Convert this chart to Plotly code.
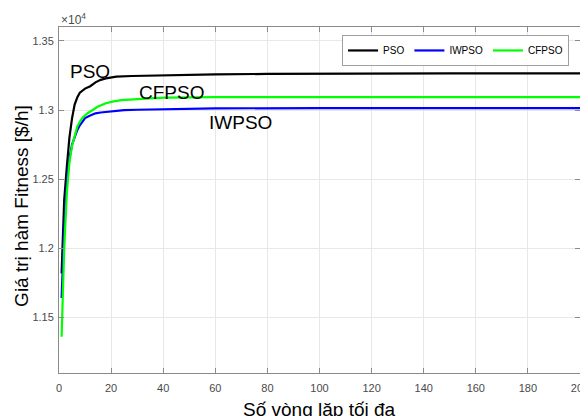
import plotly.graph_objects as go

# ---- data ----
pso_iter = [1, 2, 3, 4, 5, 6, 7, 8, 10, 12, 14, 16, 18, 20, 22, 28, 40, 60, 80, 100, 120, 150, 200]
pso_val = [11820, 12350, 12590, 12800, 12940, 13040, 13090, 13125, 13155, 13172, 13200, 13218,
           13229, 13236, 13241, 13246, 13252, 13258, 13261, 13263, 13264, 13265, 13265]

iwpso_iter = [1, 2, 3, 4, 5, 6, 7, 8, 10, 12, 14, 16, 20, 25, 30, 40, 60, 100, 200]
iwpso_val = [11642, 12150, 12480, 12650, 12750, 12810, 12855, 12890, 12942, 12960, 12976, 12982,
             12992, 13000, 13002, 13007, 13012, 13014, 13014]

cfpso_iter = [1, 2, 3, 4, 5, 6, 7, 8, 9, 11, 13, 15, 18, 21, 24, 28, 35, 41, 50, 60, 100, 200]
cfpso_val = [11362, 12000, 12400, 12620, 12740, 12820, 12880, 12915, 12945, 12977, 13000, 13025,
             13049, 13063, 13071, 13077, 13084, 13089, 13091, 13093, 13093, 13093]

y_ticks = [11500, 12000, 12500, 13000, 13500]
y_tick_labels = ["1.15", "1.2", "1.25", "1.3", "1.35"]
x_ticks = [0, 20, 40, 60, 80, 100, 120, 140, 160, 180, 200]

series = [
    ("PSO", pso_iter, pso_val, "#000000"),
    ("IWPSO", iwpso_iter, iwpso_val, "#0000FF"),
    ("CFPSO", cfpso_iter, cfpso_val, "#00FF00"),
]

# curve labels placed in data coordinates
curve_labels = [("PSO", 11.8, 13282), ("CFPSO", 43.3, 13130), ("IWPSO", 69.8, 12913)]

FONT = "Liberation Sans, Arial, Helvetica, sans-serif"
AXIS_COLOR = "#8a8a8a"
TICK_COLOR = "#4a4a4a"

fig = go.Figure()
for name, xs, ys, color in series:
    fig.add_trace(go.Scatter(x=xs, y=ys, mode="lines", name=name,
                             line=dict(color=color, width=2.2)))

axis_common = dict(
    showgrid=True, gridcolor="#e8e8e8", gridwidth=1,
    showline=True, linecolor=AXIS_COLOR, linewidth=1, mirror="ticks",
    ticks="inside", ticklen=5, tickcolor=AXIS_COLOR, tickwidth=1,
    zeroline=False, automargin=False, ticklabeloverflow="allow",
    tickfont=dict(family=FONT, size=11, color=TICK_COLOR),
)

fig.update_xaxes(range=[0, 200], tickvals=x_ticks, ticklabelstandoff=5, **axis_common)
fig.update_yaxes(range=[11100, 13600], tickvals=y_ticks, ticktext=y_tick_labels,
                 ticklabelstandoff=2, **axis_common)

for text, x, y in curve_labels:
    fig.add_annotation(x=x, y=y, xref="x", yref="y", text=text, showarrow=False,
                       font=dict(family=FONT, size=19, color="#000000"))

# axis titles
fig.add_annotation(x=0.5, y=0, xref="paper", yref="paper", yanchor="top", yshift=-24,
                   text="Số vòng lặp tối đa", showarrow=False,
                   font=dict(family=FONT, size=19, color="#000000"))
fig.add_annotation(x=0, y=0.483, xref="paper", yref="paper", xanchor="center", xshift=-37,
                   text="Giá trị hàm Fitness [$/h]", textangle=-90, showarrow=False,
                   font=dict(family=FONT, size=19, color="#000000"))
# exponent
fig.add_annotation(x=0, y=1, xref="paper", yref="paper", xanchor="left", yanchor="bottom",
                   xshift=0, yshift=-2, text="×10<sup>4</sup>", showarrow=False,
                   font=dict(family=FONT, size=12, color=TICK_COLOR))

# The page body adds an 8px offset; margins compensate so the plot area lands
# at x 59-580, y 27-373 in the 588x416 window.
fig.update_layout(
    width=588, height=416,
    margin=dict(l=51, r=16, t=19, b=51, autoexpand=False),
    plot_bgcolor="#ffffff", paper_bgcolor="#ffffff",
    font=dict(family=FONT),
    legend=dict(orientation="h", x=0.979, y=0.977, xanchor="right", yanchor="top",
                bgcolor="#ffffff", bordercolor="#a0a0a0", borderwidth=1,
                font=dict(family=FONT, size=10, color="#000000"),
                itemwidth=30, tracegroupgap=0),
    showlegend=True,
)

fig.write_html("out.html")
